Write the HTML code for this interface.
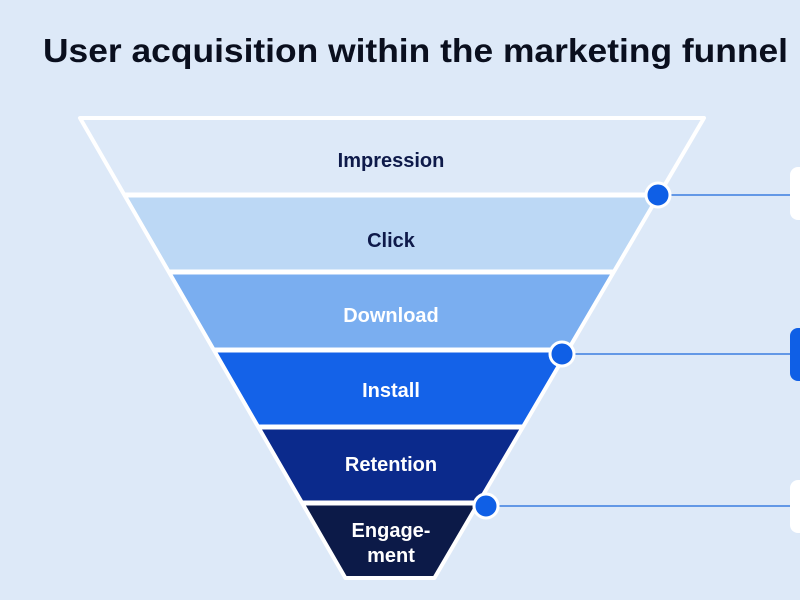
<!DOCTYPE html>
<html><head><meta charset="utf-8"><style>
html,body{margin:0;padding:0;background:#dde9f8;}
svg{display:block;}
</style></head><body>
<svg width="800" height="600" viewBox="0 0 800 600" xmlns="http://www.w3.org/2000/svg">
<rect width="800" height="600" fill="#dde9f8"/>
<text x="43" y="62" font-family="Liberation Sans, sans-serif" font-weight="bold" font-size="33" fill="#0a0f1e" textLength="745" lengthAdjust="spacingAndGlyphs">User acquisition within the marketing funnel</text>
<g stroke="#3b7de0" stroke-width="1.6">
<line x1="658" y1="195" x2="792" y2="195"/>
<line x1="562" y1="354" x2="792" y2="354"/>
<line x1="486" y1="506" x2="792" y2="506"/>
</g>
<rect x="790" y="167" width="30" height="53" rx="8" fill="#ffffff"/>
<rect x="790" y="328" width="30" height="53" rx="8" fill="#0f5fe6"/>
<rect x="790" y="480" width="30" height="53" rx="8" fill="#ffffff"/>
<polygon points="80,118 704,118 658.9,195 124.4,195" fill="#dde9f8"/>
<polygon points="124.4,195 658.9,195 613.8,272 168.9,272" fill="#bcd8f5"/>
<polygon points="168.9,272 613.8,272 568,350 213.9,350" fill="#7aaef0"/>
<polygon points="213.9,350 568,350 522.9,427 258.3,427" fill="#1462e8"/>
<polygon points="258.3,427 522.9,427 478.4,503 302.1,503" fill="#0b2a8c"/>
<polygon points="302.1,503 478.4,503 434.4,578 345.4,578" fill="#0c1a48"/>
<g stroke="#ffffff" stroke-width="5" fill="none">
<line x1="124.4" y1="195" x2="658.9" y2="195"/>
<line x1="168.9" y1="272" x2="613.8" y2="272"/>
<line x1="213.9" y1="350" x2="568" y2="350"/>
<line x1="258.3" y1="427" x2="522.9" y2="427"/>
<line x1="302.1" y1="503" x2="478.4" y2="503"/>
<polygon points="80,118 704,118 434.4,578 345.4,578" stroke-linejoin="round" stroke-width="4"/>
</g>
<g fill="#0f5fe6" stroke="#ffffff" stroke-width="3">
<circle cx="658" cy="195" r="12"/>
<circle cx="562" cy="354" r="12"/>
<circle cx="486" cy="506" r="12"/>
</g>
<g font-family="Liberation Sans, sans-serif" font-weight="bold" font-size="20" text-anchor="middle">
<text x="391" y="167" fill="#0e1a4a">Impression</text>
<text x="391" y="247" fill="#0e1a4a">Click</text>
<text x="391" y="322" fill="#ffffff">Download</text>
<text x="391" y="397" fill="#ffffff">Install</text>
<text x="391" y="471" fill="#ffffff">Retention</text>
<text x="391" y="537" fill="#ffffff">Engage-</text>
<text x="391" y="562" fill="#ffffff">ment</text>
</g>
</svg>
</body></html>
